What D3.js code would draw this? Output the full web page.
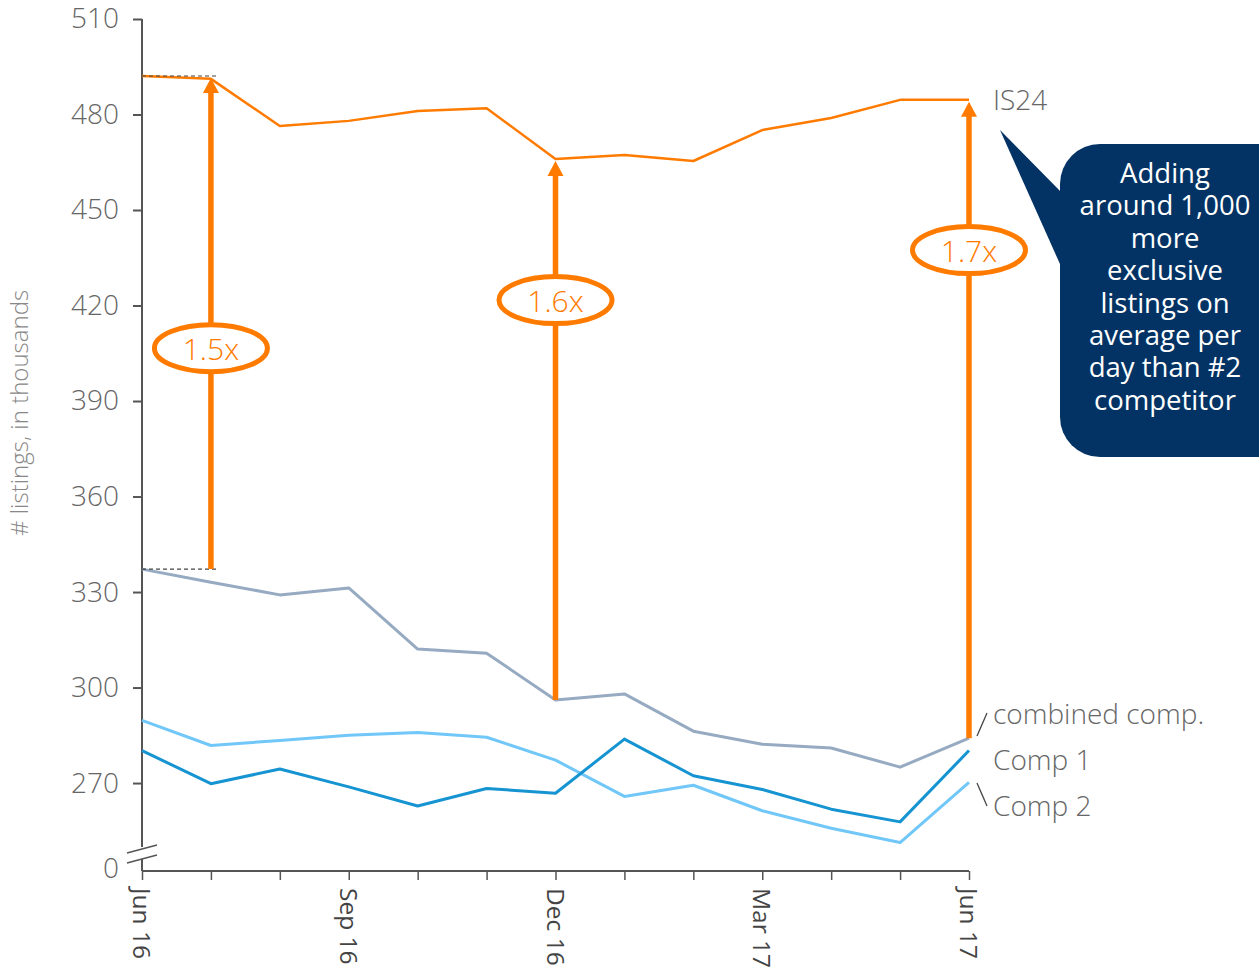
<!DOCTYPE html>
<html>
<head>
<meta charset="utf-8">
<script src="https://cdn.jsdelivr.net/npm/d3@7"></script>
<style>
  html, body { margin: 0; padding: 0; background: #fff; }
  svg { display: block; font-family: "Open Sans", "Noto Sans", sans-serif; }
  svg text { font-family: "Open Sans", "Noto Sans", sans-serif; }
</style>
</head>
<body>
<svg id="chart" width="1259" height="968"></svg>
<script>
// ---- data ----
const months = ["Jun 16","Jul 16","Aug 16","Sep 16","Oct 16","Nov 16","Dec 16","Jan 17","Feb 17","Mar 17","Apr 17","May 17","Jun 17"];
const xTickLabels = ["Jun 16","Sep 16","Dec 16","Mar 17","Jun 17"];
const yTickValues = [270, 300, 330, 360, 390, 420, 450, 480, 510];
const yBreakLabel = "0";
const is24 = [492.1, 491.2, 476.4, 478.0, 481.1, 482.0, 466.0, 467.3, 465.4, 475.1, 478.9, 484.6, 484.6];
const combinedComp = [337.2, 333.1, 329.1, 331.3, 312.1, 310.8, 296.1, 298.0, 286.3, 282.2, 281.0, 275.0, 284.1];
const comp1 = [280.2, 269.8, 274.4, 268.8, 262.8, 268.3, 266.8, 283.8, 272.3, 268.0, 261.8, 257.8, 280.2];
const comp2 = [289.7, 281.8, 283.4, 285.0, 285.9, 284.4, 277.2, 265.8, 269.3, 261.3, 255.8, 251.3, 270.2];
const multiples = ["1.5x", "1.6x", "1.7x"];
const multipleFrom = [0, 6, 12];      // month index of the compared values
const multipleArrowAt = [1, 6, 12];   // month index where arrow drawn
const calloutLines = ["Adding", "around 1,000", "more", "exclusive", "listings on", "average per", "day than #2", "competitor"];

// ---- layout ----
const svg = d3.select("#chart");
const yMin = 243, yMax = 510;
const x = d3.scaleLinear().domain([0, months.length - 1]).range([142, 969]);
const y = d3.scaleLinear().domain([yMin, yMax]).range([869, 19]);
const orange = "#FF7B00";
const colors = { is24: orange, comb: "#96AAC1", c1: "#1594D1", c2: "#70C7F8" };
const FONT = '"Open Sans", "Noto Sans", sans-serif';

// ---- y axis ----
const yAxis = d3.axisLeft(y)
  .tickValues([yMin].concat(yTickValues))
  .tickSize(9).tickPadding(14)
  .tickFormat(v => v === yMin ? yBreakLabel : v);
const gy = svg.append("g").attr("transform", "translate(142,0)").call(yAxis)
  .attr("font-family", FONT).attr("font-size", null);
gy.select(".domain").remove();
gy.selectAll(".tick line").attr("stroke", "#555").attr("stroke-width", 2);
gy.selectAll(".tick").filter(d => d === yMin).select("line").remove();
gy.selectAll(".tick text").attr("fill", "#666").style("font-size", "28px").style("font-weight", 300);
// axis line with break
gy.append("line").attr("x1", 0).attr("x2", 0).attr("y1", y(yMax)).attr("y2", 847).attr("stroke", "#555").attr("stroke-width", 2);
gy.append("line").attr("x1", 0).attr("x2", 0).attr("y1", 859).attr("y2", y(yMin) + 2).attr("stroke", "#555").attr("stroke-width", 2);
gy.append("line").attr("x1", -15).attr("x2", 15).attr("y1", 853).attr("y2", 845).attr("stroke", "#555").attr("stroke-width", 1.6);
gy.append("line").attr("x1", -15).attr("x2", 15).attr("y1", 863).attr("y2", 855).attr("stroke", "#555").attr("stroke-width", 1.6);

// y title
svg.append("text")
  .attr("transform", "translate(28,413) rotate(-90)")
  .attr("text-anchor", "middle")
  .attr("fill", "#888")
  .style("font-size", "24px").style("font-weight", 300)
  .text("# listings, in thousands");

// ---- x axis ----
const xAxis = d3.axisBottom(x)
  .tickValues(d3.range(months.length))
  .tickSize(9)
  .tickFormat(i => xTickLabels.includes(months[i]) ? months[i] : "");
const gx = svg.append("g").attr("transform", `translate(0,${y(yMin) + 2})`).call(xAxis)
  .attr("font-family", FONT).attr("font-size", null);
gx.select(".domain").attr("stroke", "#555").attr("stroke-width", 2).attr("d", `M${x(0)},0H${x(months.length - 1)}`);
gx.selectAll(".tick line").attr("stroke", "#555").attr("stroke-width", 1.5);
gx.selectAll(".tick text")
  .attr("fill", "#444")
  .style("font-size", "24.5px")
  .attr("text-anchor", "start")
  .attr("dy", null)
  .attr("dominant-baseline", "central")
  .attr("transform", "translate(0,17) rotate(90)")
  .attr("x", 0).attr("y", 0);

// ---- lines ----
const line = d3.line().x((d, i) => x(i)).y(d => y(d));
const series = [
  { data: comp2, color: colors.c2, w: 3 },
  { data: comp1, color: colors.c1, w: 3 },
  { data: combinedComp, color: colors.comb, w: 3 },
  { data: is24, color: colors.is24, w: 2.5 }
];
svg.append("g").selectAll("path").data(series).join("path")
  .attr("d", s => line(s.data))
  .attr("fill", "none")
  .attr("stroke", s => s.color)
  .attr("stroke-width", s => s.w)
  .attr("stroke-linejoin", "round");

// dashed reference lines for first comparison
[is24[0], combinedComp[0]].forEach(v => {
  svg.append("line")
    .attr("x1", x(0)).attr("x2", x(1) + 7)
    .attr("y1", y(v)).attr("y2", y(v))
    .attr("stroke", "#444").attr("stroke-width", 1.2).attr("stroke-dasharray", "4,3");
});

// ---- arrows + multiples ----
const labelVals = [406.6, 421.7, 437.4];
const ag = svg.append("g");
multiples.forEach((m, k) => {
  const ax = x(multipleArrowAt[k]);
  const y0 = y(combinedComp[multipleFrom[k]]);
  const y1 = y(is24[multipleFrom[k]]) + 2;
  ag.append("line").attr("x1", ax).attr("x2", ax).attr("y1", y0).attr("y2", y1 + 12)
    .attr("stroke", orange).attr("stroke-width", 5.5);
  ag.append("path").attr("d", `M${ax},${y1} L${ax - 8},${y1 + 15} L${ax + 8},${y1 + 15} Z`).attr("fill", orange);
  const cy = y(labelVals[k]);
  ag.append("ellipse").attr("cx", ax).attr("cy", cy).attr("rx", 56.5).attr("ry", 23.5)
    .attr("fill", "#fff").attr("stroke", orange).attr("stroke-width", 5);
  ag.append("text").attr("x", ax).attr("y", cy).attr("text-anchor", "middle")
    .attr("dominant-baseline", "central")
    .attr("fill", orange).style("font-size", "30px").style("font-weight", 300)
    .text(m);
});

// ---- series labels ----
const lab = svg.append("g").attr("fill", "#666").style("font-size", "28px").style("font-weight", 300);
lab.append("text").attr("x", 993).attr("y", 110).text("IS24");
lab.append("text").attr("x", 993).attr("y", 724).text("combined comp.");
lab.append("text").attr("x", 993).attr("y", 770).text("Comp 1");
lab.append("text").attr("x", 993).attr("y", 816).text("Comp 2");
svg.append("line").attr("x1", 977).attr("y1", 736).attr("x2", 987).attr("y2", 713).attr("stroke", "#444").attr("stroke-width", 1.3);
svg.append("line").attr("x1", 977).attr("y1", 783).attr("x2", 987).attr("y2", 806).attr("stroke", "#444").attr("stroke-width", 1.3);

// ---- callout ----
const navy = "#033364";
svg.append("rect").attr("x", 1060).attr("y", 144).attr("width", 240).attr("height", 313).attr("rx", 40).attr("ry", 40).attr("fill", navy);
svg.append("path").attr("d", "M1000,130 L1064,195 L1064,273 Z").attr("fill", navy);
svg.append("text").attr("fill", "#fff").attr("text-anchor", "middle")
  .style("font-size", "27.5px")
  .selectAll("tspan").data(calloutLines).join("tspan")
  .attr("x", 1165).attr("y", (d, i) => 183 + i * 32.4).text(d => d);
</script>
</body>
</html>
